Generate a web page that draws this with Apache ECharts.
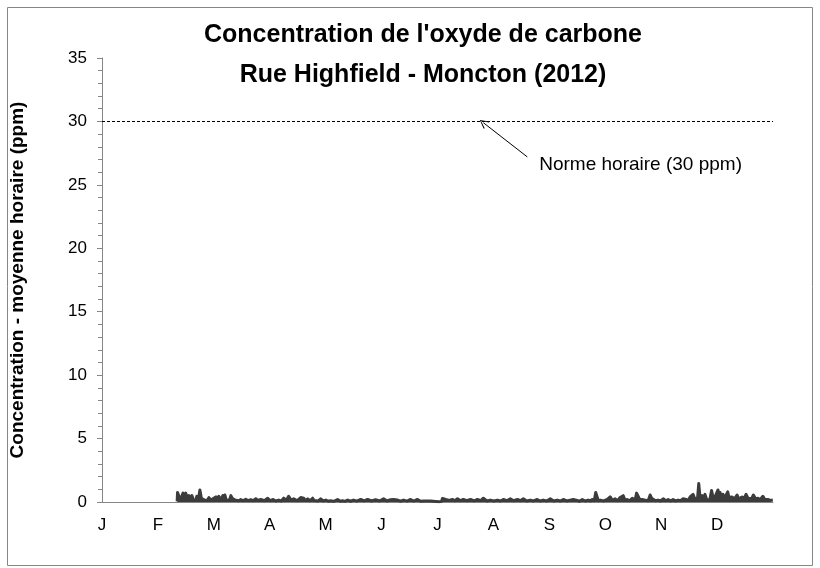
<!DOCTYPE html>
<html>
<head>
<meta charset="utf-8">
<script src="https://cdn.jsdelivr.net/npm/echarts@6/dist/echarts.min.js"></script>
<style>
    html, body { margin: 0; padding: 0; background: #fff; }
    #chart { width: 820px; height: 568px; }
</style>
</head>
<body>
<div id="chart"></div>
<script>
// étiquettes des mois (axe des x)
const monthLabels = ['J', 'F', 'M', 'A', 'M', 'J', 'J', 'A', 'S', 'O', 'N', 'D']
const yTicks = [0, 5, 10, 15, 20, 25, 30, 35]
const norme = 30

// jour de l'année (2012) et concentration (ppm)
const days = [
    41, 41.2, 42, 42.8, 43.5, 44.2, 45, 45.7, 46.6, 47.4, 48.3, 49, 50, 50.5, 51.2, 51.7, 52.6, 53.4, 54.2, 55,
    55.8, 56.6, 57.5, 58.3, 59.4, 60.5, 61.3, 62.1, 63, 63.7, 64.8, 65.9, 66.5, 67, 67.8, 68.6, 69.5, 70.3, 71, 71.9,
    72.5, 73, 74.5, 75.7, 77, 78.4, 79.8, 81.1, 82.5, 83.9, 85.2, 86.6, 88.5, 90.4, 91.8, 93.1, 94.8, 96.4, 97.8, 99.1,
    100.5, 101.8, 103.2, 104.6, 106.5, 108.4, 109.2, 110, 111, 112.2, 113.5, 114.9, 115.7, 116.5, 118, 119.3, 120.7, 122, 123.4, 124.7,
    126.5, 128.5, 130, 131.2, 132.6, 134, 135.6, 137.2, 139, 141.1, 143, 144.9, 147, 149.2, 151.4, 153.6, 155.5, 157.4, 159, 160,
    161.2, 163, 164.5, 166.5, 168.3, 170, 172.1, 173.8, 175.4, 179.2, 182, 184.1, 185.2, 185.7, 186.5, 187.5, 188.4, 189.5, 191.1, 192.5,
    193.9, 195.5, 197.1, 199, 201, 203, 204.8, 206.5, 208, 210, 211.8, 213.7, 215.7, 217.3, 218.9, 220.8, 222.7, 224.6, 226.6, 228.2,
    229.8, 231.7, 233.6, 235.5, 237.4, 239, 240.7, 242.6, 244.5, 246.4, 248.3, 250, 251.6, 253.5, 255.4, 257, 258, 259.2, 260.5, 262,
    263.6, 265.2, 266.3, 267.4, 268.5, 269.3, 270, 270.7, 271.8, 273.7, 275.6, 276.4, 277.2, 278.5, 279.9, 281.2, 282.6, 283.5, 284.3, 285.3,
    286.5, 287.8, 289.2, 290.8, 291.6, 292.5, 293.5, 294.6, 295.5, 296.3, 297.9, 299, 299.8, 300.6, 301.9, 303.3, 304.7, 306.1, 307.5, 308.8,
    310.2, 311.5, 312.8, 314.2, 315.6, 317, 318, 318.6, 319.7, 320.8, 321.6, 322.4, 323.2, 324, 324.8, 325.5, 326.2, 327.3, 328.1, 328.9,
    329.8, 330.6, 331.5, 332.5, 333.3, 334.4, 335.2, 336, 336.6, 337.1, 338, 338.7, 339.6, 340.4, 341.3, 342, 343.6, 345, 346.4, 347.3,
    348, 349.1, 350.2, 351.3, 352.4, 353.4, 354.3, 355.3, 356.5, 357.8, 359, 360.5, 361.5, 363.2, 364.5, 365.9
]
const ppm = [
    0.05, 0.75, 0.6, 0.15, 0.3, 0.7, 0.45, 0.7, 0.15, 0.5, 0.3, 0.5, 0.12, 0.25, 0.12, 0.45, 0.2, 0.95, 0.3, 0.4,
    0.15, 0.3, 0.12, 0.35, 0.15, 0.25, 0.12, 0.4, 0.2, 0.45, 0.15, 0.5, 0.3, 0.55, 0.15, 0.3, 0.12, 0.5, 0.3, 0.45,
    0.15, 0.2, 0.1, 0.2, 0.1, 0.22, 0.1, 0.18, 0.1, 0.25, 0.12, 0.2, 0.1, 0.3, 0.1, 0.2, 0.08, 0.15, 0.08, 0.3,
    0.12, 0.45, 0.15, 0.25, 0.1, 0.35, 0.2, 0.3, 0.12, 0.25, 0.1, 0.3, 0.12, 0.2, 0.08, 0.25, 0.08, 0.15, 0.06, 0.1,
    0.05, 0.2, 0.06, 0.1, 0.05, 0.15, 0.06, 0.15, 0.07, 0.2, 0.08, 0.2, 0.08, 0.18, 0.08, 0.25, 0.08, 0.18, 0.2, 0.08,
    0.15, 0.06, 0.15, 0.07, 0.2, 0.07, 0.2, 0.06, 0.08, 0.07, 0.04, 0.02, 0.05, 0.28, 0.15, 0.2, 0.35, 0.12, 0.2, 0.1,
    0.25, 0.1, 0.2, 0.1, 0.2, 0.08, 0.2, 0.1, 0.3, 0.08, 0.15, 0.08, 0.15, 0.08, 0.2, 0.1, 0.25, 0.1, 0.2, 0.1,
    0.25, 0.08, 0.15, 0.08, 0.2, 0.08, 0.15, 0.08, 0.25, 0.08, 0.15, 0.08, 0.2, 0.08, 0.15, 0.2, 0.08, 0.12, 0.06, 0.2,
    0.08, 0.15, 0.08, 0.2, 0.1, 0.75, 0.7, 0.1, 0.15, 0.08, 0.2, 0.1, 0.4, 0.12, 0.25, 0.1, 0.35, 0.2, 0.5, 0.12,
    0.2, 0.1, 0.3, 0.15, 0.7, 0.65, 0.15, 0.2, 0.08, 0.15, 0.1, 0.55, 0.3, 0.4, 0.1, 0.15, 0.08, 0.25, 0.1, 0.2,
    0.08, 0.2, 0.08, 0.15, 0.1, 0.25, 0.12, 0.2, 0.12, 0.4, 0.3, 0.6, 0.3, 0.45, 0.2, 1.45, 0.35, 0.5, 0.3, 0.6,
    0.2, 0.25, 0.15, 0.9, 0.35, 0.4, 0.25, 0.95, 0.55, 0.75, 0.4, 0.6, 0.3, 0.35, 0.8, 0.35, 0.4, 0.25, 0.55, 0.25,
    0.3, 0.4, 0.25, 0.6, 0.3, 0.35, 0.25, 0.55, 0.25, 0.3, 0.2, 0.45, 0.2, 0.2, 0.12, 0.15
]

// flèche de l'annotation (jour, ppm) et position du texte
const arrowFrom = [208, 29.9]
const arrowTo = [232, 27.2]
const noteAt = [238.5, 26.6]
const noteText = 'Norme horaire (30 ppm)'

const font = 'Liberation Sans'
const axisGray = '#868686'
const dayLen = 366 / 12

const myChart = echarts.init(document.getElementById('chart'))
const options = {
    animation: false,
    backgroundColor: '#fff',
    title: {
        text: "Concentration de l'oxyde de carbone\nRue Highfield - Moncton (2012)",
        left: 418,
        top: 10,
        textAlign: 'center',
        textStyle: {
            fontFamily: font,
            fontWeight: 'bold',
            fontSize: 25,
            lineHeight: 40,
            color: '#000'
        }
    },
    graphic: [{
        type: 'rect',
        shape: { x: 7.5, y: 7.5, width: 805, height: 558 },
        style: { fill: 'none', stroke: axisGray, lineWidth: 1 },
        silent: true
    }],
    grid: {
        left: 101,
        right: 47,
        top: 58,
        bottom: 66
    },
    xAxis: {
        type: 'value',
        min: 0,
        max: 366,
        interval: dayLen,
        splitLine: { show: false },
        axisTick: { show: false },
        axisLine: { lineStyle: { color: axisGray, width: 1 } },
        axisLabel: {
            fontFamily: font,
            fontSize: 17,
            color: '#000',
            margin: 15,
            showMaxLabel: false,
            formatter: v => monthLabels[Math.round(v / dayLen)] || ''
        }
    },
    yAxis: {
        type: 'value',
        min: yTicks[0],
        max: yTicks[yTicks.length - 1],
        interval: 5,
        name: 'Concentration - moyenne horaire (ppm)',
        nameLocation: 'middle',
        nameGap: 75,
        nameTextStyle: {
            fontFamily: font,
            fontWeight: 'bold',
            fontSize: 19,
            color: '#000'
        },
        splitLine: { show: false },
        axisLine: { show: true, lineStyle: { color: axisGray, width: 1 } },
        axisTick: { show: true, length: 5, lineStyle: { color: axisGray } },
        minorTick: { show: true, splitNumber: 5, length: 4, lineStyle: { color: axisGray } },
        axisLabel: {
            fontFamily: font,
            fontSize: 17,
            color: '#000',
            margin: 15
        }
    },
    series: [{
        type: 'line',
        data: days.map((d, i) => [d, ppm[i]]),
        symbol: 'none',
        lineStyle: { color: '#3c3c3c', width: 3, join: 'round' },
        areaStyle: { color: '#3c3c3c', opacity: 1 },
        markLine: {
            silent: true,
            symbol: 'none',
            label: { show: false },
            data: [
                {
                    yAxis: norme,
                    lineStyle: { color: '#000', type: [3, 2], width: 1 }
                },
                [
                    {
                        coord: arrowFrom,
                        symbol: 'path://M5,0 L10,10 L9,10.6 L5,2 L1,10.6 L0,10 Z',
                        symbolSize: [9, 9],
                        lineStyle: { color: '#000', type: 'solid', width: 1 }
                    },
                    { coord: arrowTo, symbol: 'none' }
                ]
            ]
        },
        markPoint: {
            silent: true,
            symbol: 'circle',
            symbolSize: 0,
            data: [{
                coord: noteAt,
                label: {
                    show: true,
                    position: 'right',
                    distance: 0,
                    formatter: noteText,
                    fontFamily: font,
                    fontSize: 19,
                    color: '#000'
                }
            }]
        }
    }]
}
myChart.setOption(options)
</script>
</body>
</html>
